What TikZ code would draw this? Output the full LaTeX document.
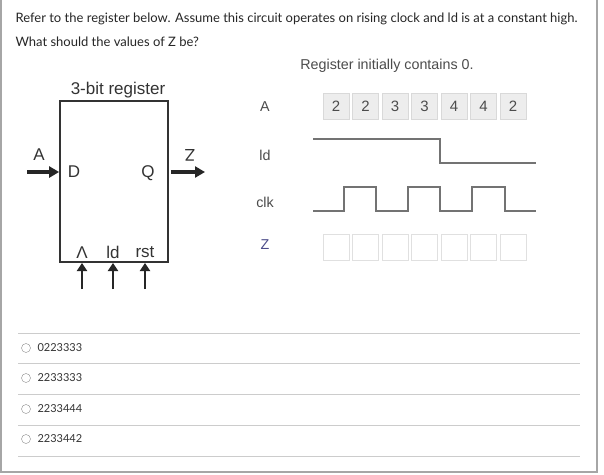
\documentclass[tikz,border=0pt]{standalone}
\usepackage{fontspec}
\setmainfont{Lato}
\newfontfamily\arial{Liberation Sans}
\usetikzlibrary{arrows.meta}
\begin{document}
\begin{tikzpicture}[x=1pt,y=-1pt,
  q/.style={anchor=west,font=\fontsize{13}{15}\selectfont,text=black!85},
  opt/.style={anchor=west,font=\fontsize{11}{13}\selectfont,text=black!80},
  rl/.style={font=\arial\fontsize{17}{19}\selectfont,text=black!80},
  tl/.style={font=\arial\fontsize{14.3}{16}\selectfont,text=black!70},
  big/.style={-{Triangle[length=10pt,width=11pt]},line width=4.5pt,black!85},
  abox/.style={draw=black!15,fill=black!7,minimum width=26pt,minimum height=26pt,inner sep=0pt,font=\arial\fontsize{15}{16}\selectfont,text=black!70},
  zbox/.style={draw=black!12,minimum width=26pt,minimum height=26pt,inner sep=0pt},
  wave/.style={draw=black!55,line width=1.2pt},
  sep/.style={draw=black!20,line width=0.6pt},
  radio/.style={circle,draw=black!45,minimum size=9pt,inner sep=0pt}]
\useasboundingbox (0,0) rectangle (604,474);
\fill[white] (0,0) rectangle (604,474);
\draw[black!35,line width=1.5pt] (1,0) -- (1,472) -- (597,472) -- (597,0);
\node[q] (q1) at (12,19) {Refer to the register below. Assume this circuit operates on rising clock and ld is at a constant high.};
\node[q] (q2) at (12,42) {What should the values of Z be?};
% register
\node[draw=black!80,line width=1.8pt,minimum width=108pt,minimum height=161pt,inner sep=0pt] (reg) at (114,181.5) {};
\node[rl] (title) at (118,90) {3-bit register};
\node[rl] (D) at (74,172) {D};
\node[rl] (Q) at (148,173) {Q};
\node[rl] (Al) at (39,155) {A};
\node[rl,rotate=180] (Zl) at (190,155) {Z};
\coordinate (ain) at (27,172);
\coordinate (zout) at (205,172);
\draw[big] (ain) -- (reg.west |- ain);
\draw[big] (reg.east |- zout) ++(2,0) -- (zout);
\node[rl] (clkl) at (82,253) {Λ};
\node[rl] (ldl) at (113,252) {ld};
\node[rl] (rstl) at (145,252) {rst};
\foreach \x/\n in {82/c,113/l,145/r}{
  \coordinate (b\n) at (\x,289);
  \draw[-{Triangle[length=8pt,width=10pt]},line width=2.5pt,black!85] (b\n) -- (\x,263);
}
% timing
\node[tl] (rinit) at (387,66) {Register initially contains 0.};
\node[tl] (tA) at (265,107) {A};
\node[tl] (tld) at (265,155) {ld};
\node[tl] (tclk) at (265,202) {clk};
\node[tl,text=black!40!blue!40!gray] (tZ) at (265,245) {Z};
\foreach \v [count=\i from 0] in {2,2,3,3,4,4,2}{
  \node[abox] (a\i) at (336+29.5*\i,106) {\v};
  \node[zbox] (z\i) at (336+29.5*\i,247) {};
}
\draw[wave] (313,139) -- (440,139) -- (440,163) -- (536,163);
\draw[wave] (313,211) -- (344,211) -- (344,187) -- (376,187) -- (376,211) -- (408,211) -- (408,187) -- (440,187) -- (440,211) -- (472,211) -- (472,187) -- (505,187) -- (505,211) -- (536,211);
% options
\foreach \y in {333,363,394,425,456} \draw[sep] (18,\y) -- (580,\y);
\foreach \y/\t [count=\i] in {348/0223333,378/2233333,409/2233444,439/2233442}{
  \node[radio] (r\i) at (26,\y) {};
  \node[opt] (o\i) at (34,\y) {\t};
}
\end{tikzpicture}
\end{document}
